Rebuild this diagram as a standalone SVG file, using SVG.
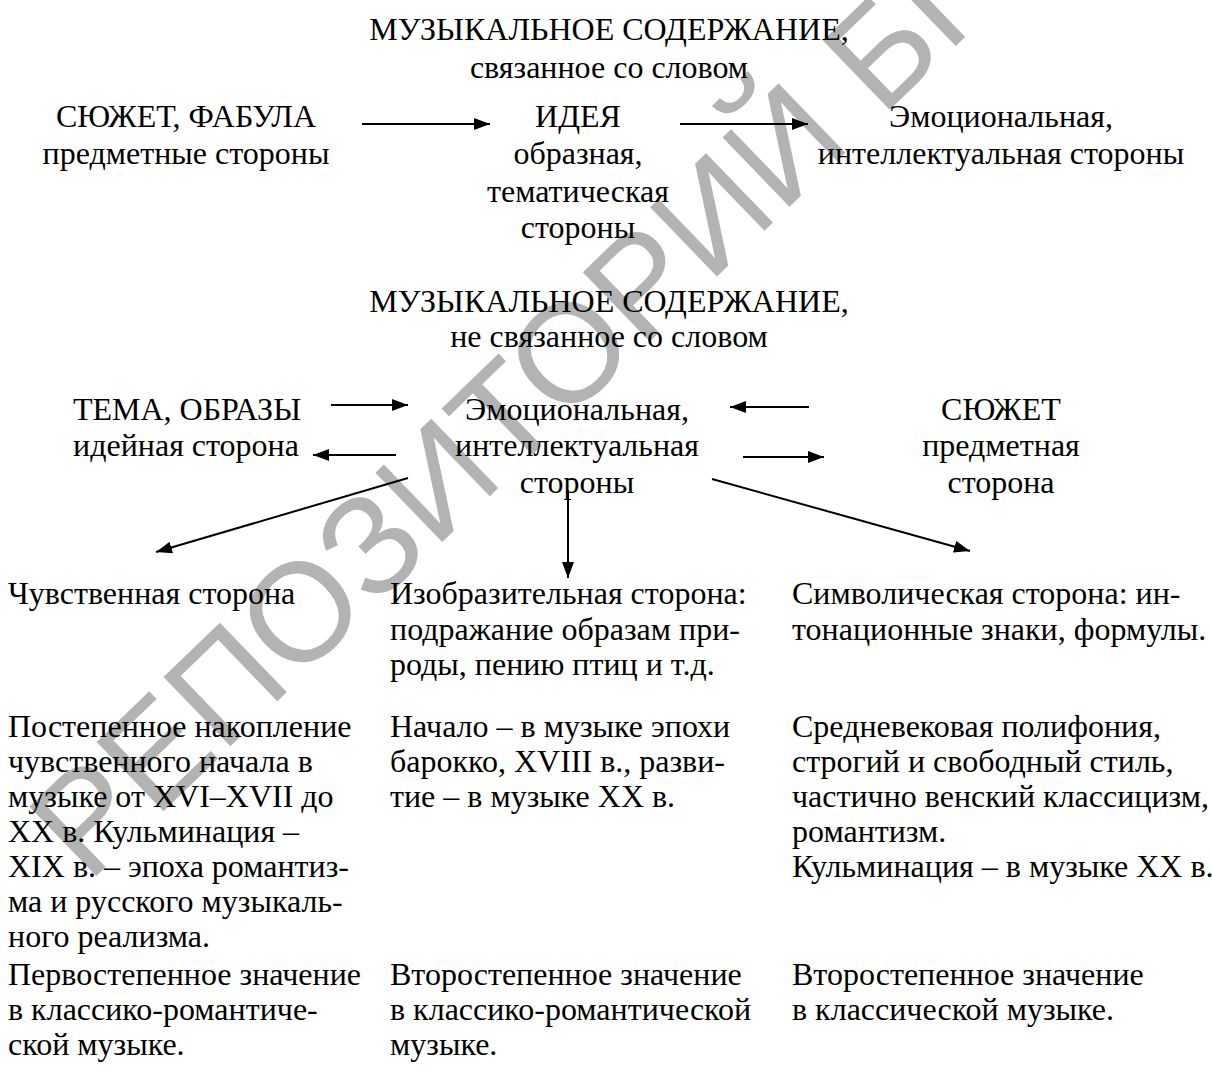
<svg xmlns="http://www.w3.org/2000/svg" width="1212" height="1077" viewBox="0 0 1212 1077">
<style>
text{font-family:"Liberation Serif","Times New Roman",serif;font-size:32px;fill:#000}
.c{text-anchor:middle}
.wm{font-family:"Liberation Sans",Arial,sans-serif;font-size:140px;fill:#b3b3b3}
.ln{stroke:#000;stroke-width:2;fill:none}
</style>
<defs>
<marker id="ahb" viewBox="0 0 16 12" refX="16" refY="6" markerWidth="16" markerHeight="12" orient="auto" markerUnits="userSpaceOnUse">
<path d="M0,0 L16,6 L0,12 z" fill="#000"/>
</marker>
</defs>
<rect width="1212" height="1077" fill="#fff"/>
<text class="wm" transform="translate(88,884) rotate(-44)">РЕПОЗИТОРИЙ БГ</text>

<g id="title1"><text class="c" x="609" y="40">МУЗЫКАЛЬНОЕ СОДЕРЖАНИЕ,</text><text class="c" x="609" y="78">связанное со словом</text></g>
<g id="n-syuzhet-fabula"><text class="c" x="186" y="127">СЮЖЕТ, ФАБУЛА</text><text class="c" x="186" y="164">предметные стороны</text></g>
<g id="n-ideya"><text class="c" x="578" y="127">ИДЕЯ</text><text class="c" x="578" y="164">образная,</text><text class="c" x="578" y="202">тематическая</text><text class="c" x="578" y="238">стороны</text></g>
<g id="n-emo1"><text class="c" x="1001" y="127">Эмоциональная,</text><text class="c" x="1001" y="164">интеллектуальная стороны</text></g>

<g id="title2"><text class="c" x="609" y="312">МУЗЫКАЛЬНОЕ СОДЕРЖАНИЕ,</text><text class="c" x="609" y="347">не связанное со словом</text></g>
<g id="n-tema"><text class="c" x="187" y="420">ТЕМА, ОБРАЗЫ</text><text class="c" x="186" y="456">идейная сторона</text></g>
<g id="n-emo2"><text class="c" x="577" y="420">Эмоциональная,</text><text class="c" x="577" y="456">интеллектуальная</text><text class="c" x="577" y="493">стороны</text></g>
<g id="n-syuzhet"><text class="c" x="1001" y="420">СЮЖЕТ</text><text class="c" x="1001" y="456">предметная</text><text class="c" x="1001" y="493">сторона</text></g>

<g id="n-chuvst"><text x="8" y="604">Чувственная сторона</text></g>
<g id="n-izobr"><text x="390" y="604">Изобразительная сторона:</text><text x="390" y="640">подражание образам при-</text><text x="390" y="675">роды, пению птиц и т.д.</text></g>
<g id="n-simv"><text x="792" y="604">Символическая сторона: ин-</text><text x="792" y="640">тонационные знаки, формулы.</text></g>

<g id="n-chuvst-hist"><text x="8" y="737">Постепенное накопление</text><text x="8" y="772">чувственного начала в</text><text x="8" y="807">музыке от XVI–XVII до</text><text x="8" y="842">XX в. Кульминация –</text><text x="8" y="877">XIX в. – эпоха романтиз-</text><text x="8" y="912">ма и русского музыкаль-</text><text x="8" y="947">ного реализма.</text></g>
<g id="n-izobr-hist"><text x="390" y="737">Начало – в музыке эпохи</text><text x="390" y="772">барокко, XVIII в., разви-</text><text x="390" y="807">тие – в музыке XX в.</text></g>
<g id="n-simv-hist"><text x="792" y="737">Средневековая полифония,</text><text x="792" y="772">строгий и свободный стиль,</text><text x="792" y="807">частично венский классицизм,</text><text x="792" y="842">романтизм.</text><text x="792" y="877">Кульминация – в музыке XX в.</text></g>

<g id="n-chuvst-zn"><text x="8" y="985">Первостепенное значение</text><text x="8" y="1020">в классико-романтиче-</text><text x="8" y="1055">ской музыке.</text></g>
<g id="n-izobr-zn"><text x="390" y="985">Второстепенное значение</text><text x="390" y="1020">в классико-романтической</text><text x="390" y="1055">музыке.</text></g>
<g id="n-simv-zn"><text x="792" y="985">Второстепенное значение</text><text x="792" y="1020">в классической музыке.</text></g>

<g id="connectors">
<line class="ln" x1="362" y1="124" x2="490" y2="124" marker-end="url(#ahb)"/>
<line class="ln" x1="680" y1="124" x2="808" y2="124" marker-end="url(#ahb)"/>
<line class="ln" x1="331" y1="405" x2="408" y2="405" marker-end="url(#ahb)"/>
<line class="ln" x1="809" y1="407" x2="730" y2="407" marker-end="url(#ahb)"/>
<line class="ln" x1="396" y1="455" x2="313" y2="455" marker-end="url(#ahb)"/>
<line class="ln" x1="743" y1="457" x2="824" y2="457" marker-end="url(#ahb)"/>
<line class="ln" x1="408" y1="478" x2="156" y2="552" marker-end="url(#ahb)"/>
<line class="ln" x1="568" y1="490" x2="568" y2="578" marker-end="url(#ahb)"/>
<line class="ln" x1="712" y1="479" x2="970" y2="551" marker-end="url(#ahb)"/>
</g>
</svg>
